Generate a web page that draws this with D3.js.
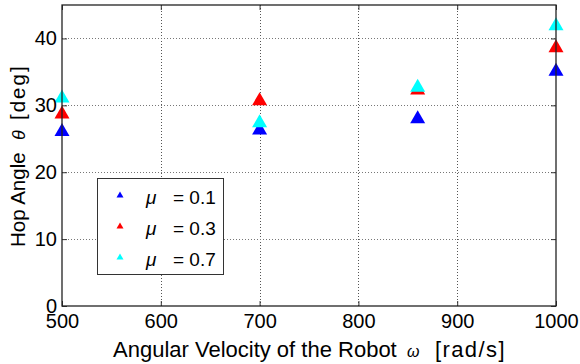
<!DOCTYPE html>
<html>
<head>
<meta charset="utf-8">
<script src="https://cdn.jsdelivr.net/npm/d3@7"></script>
<style>
  html, body { margin: 0; padding: 0; background: #fff; }
  svg { display: block; }
  text { font-family: "Liberation Sans", Arial, sans-serif; fill: #000; }
</style>
</head>
<body>
<svg id="chart" width="580" height="364"></svg>
<script>
// Angular velocity of the robot [rad/s]
const omegas = [500, 700, 860, 1000];
// Hop angle [deg] per friction coefficient
const mu01 = [26.4, 26.6, 28.3, 35.4];
const mu03 = [29.0, 31.0, 32.6, 38.9];
const mu07 = [31.4, 27.7, 33.0, 42.2];
const muLabels = ["0.1", "0.3", "0.7"];
const seriesColors = ["#0000ff", "#ff0000", "#00ffff"];
const xTicks = [500, 600, 700, 800, 900, 1000];
const yTicks = [0, 10, 20, 30, 40];

const series = [mu01, mu03, mu07].map((vals, i) => ({
  label: muLabels[i],
  color: seriesColors[i],
  points: omegas.map((w, j) => ({ x: w, y: vals[j] }))
}));

const svg = d3.select("#chart");
const m = { left: 62, right: 24, top: 5, bottom: 58 };
const W = 580, H = 364;
const x = d3.scaleLinear().domain([500, 1000]).range([m.left, W - m.right]);
const y = d3.scaleLinear().domain([0, 45]).range([H - m.bottom, m.top]);

// dotted grid
const grid = svg.append("g");
grid.selectAll("line.gx").data(xTicks.slice(1, -1)).join("line")
  .attr("x1", d => Math.round(x(d)) + 0.5).attr("x2", d => Math.round(x(d)) + 0.5)
  .attr("y1", y(45)).attr("y2", y(0))
  .attr("stroke", "#555").attr("stroke-width", 1).attr("stroke-dasharray", "1,2");
grid.selectAll("line.gy").data(yTicks.slice(1)).join("line")
  .attr("y1", d => Math.round(y(d)) + 0.5).attr("y2", d => Math.round(y(d)) + 0.5)
  .attr("x1", x(500)).attr("x2", x(1000))
  .attr("stroke", "#777").attr("stroke-width", 1).attr("stroke-dasharray", "1,2");

// triangle marker path, centered on its bounding box
function tri(w, h) {
  return `M0,${-h / 2}L${w / 2},${h / 2}L${-w / 2},${h / 2}Z`;
}

const marks = svg.append("g");
series.forEach(s => {
  marks.selectAll(null).data(s.points).join("path")
    .attr("d", tri(15, 13))
    .attr("transform", d => `translate(${x(d.x)},${y(d.y)})`)
    .attr("fill", s.color);
});

// axes with inward ticks on all four sides
const tickLen = 5;
const xAxisB = d3.axisBottom(x).tickValues(xTicks).tickSize(-tickLen).tickPadding(8).tickFormat(d3.format("d"));
const xAxisT = d3.axisTop(x).tickValues(xTicks).tickSize(-tickLen).tickFormat("");
const yAxisL = d3.axisLeft(y).tickValues(yTicks).tickSize(-tickLen).tickPadding(5).tickFormat(d3.format("d"));
const yAxisR = d3.axisRight(y).tickValues(yTicks).tickSize(-tickLen).tickFormat("");

function style(g) {
  g.select(".domain").remove();
  g.selectAll(".tick line").attr("stroke", "#333");
  g.selectAll(".tick text").attr("font-size", 20).attr("fill", "#000")
    .attr("font-family", "'Liberation Sans', Arial, sans-serif");
}
svg.append("g").attr("transform", `translate(0,${y(0)})`).call(xAxisB).call(style);
svg.append("g").attr("transform", `translate(0,${y(45)})`).call(xAxisT).call(style);
svg.append("g").attr("transform", `translate(${x(500)},0)`).call(yAxisL).call(style);
svg.append("g").attr("transform", `translate(${x(1000)},0)`).call(yAxisR).call(style);

// plot box
svg.append("rect")
  .attr("x", x(500)).attr("y", y(45))
  .attr("width", x(1000) - x(500)).attr("height", y(0) - y(45))
  .attr("fill", "none").attr("stroke", "#222").attr("stroke-width", 1.3);

// x axis title, laid out piece by piece
const xt = svg.append("g").attr("transform", `translate(0,${H - 7})`);
xt.append("text").attr("x", 113).attr("font-size", 22).text("Angular Velocity of the Robot");
xt.append("text").attr("x", 407).attr("font-size", 16).attr("font-style", "italic")
  .attr("font-family", "'DejaVu Serif', serif").text("ω");
xt.append("text").attr("x", 435).attr("font-size", 22).attr("letter-spacing", 1.4).text("[rad/s]");

// y axis title, rotated
const yt = svg.append("g").attr("transform", "translate(25,0) rotate(-90)");
yt.append("text").attr("x", -247).attr("font-size", 20.5).text("Hop Angle");
yt.append("text").attr("x", -140).attr("font-size", 18).attr("font-style", "italic")
  .attr("font-family", "'DejaVu Serif', serif").text("θ");
yt.append("text").attr("x", -120).attr("font-size", 20.5).attr("letter-spacing", 2).text("[deg]");

// legend
const lg = svg.append("g");
lg.append("rect").attr("x", 97.5).attr("y", 178.5).attr("width", 126).attr("height", 96)
  .attr("fill", "#fff").attr("stroke", "#333").attr("stroke-width", 1);
series.forEach((s, i) => {
  const cy = 194.5 + i * 31;
  lg.append("path").attr("d", tri(7, 6)).attr("transform", `translate(120,${cy})`).attr("fill", s.color);
  lg.append("text").attr("x", 146).attr("y", cy + 9).attr("font-size", 19)
    .attr("font-style", "italic").attr("font-family", "'DejaVu Serif', serif").text("μ");
  lg.append("text").attr("x", 173).attr("y", cy + 9).attr("font-size", 19).text("= " + s.label);
});
</script>
</body>
</html>
